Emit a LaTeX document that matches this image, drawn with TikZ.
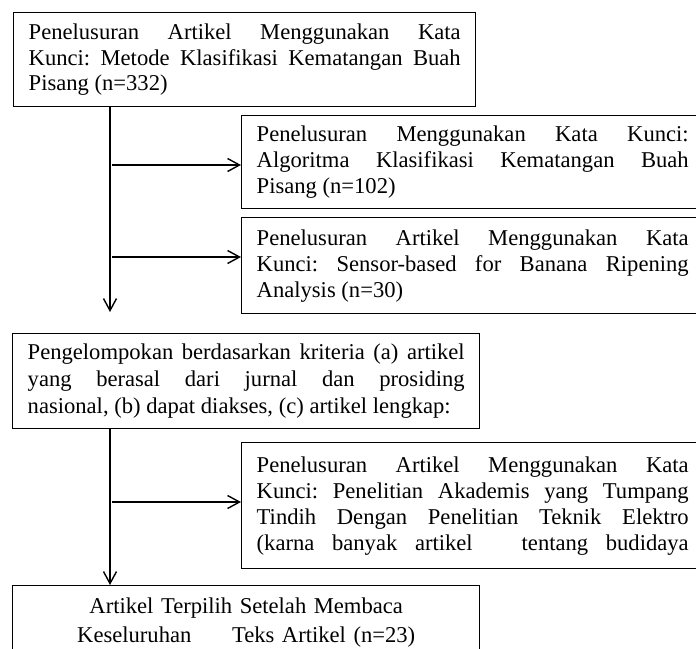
\documentclass[tikz,border=0pt]{standalone}
\usepackage{fontspec}
\setmainfont{Liberation Serif}
\usetikzlibrary{arrows.meta}

\begin{document}
\frenchspacing
\begin{tikzpicture}[
		x=1pt, y=-1pt,
		every node/.style={
			font=\fontsize{22.6}{26}\selectfont,
			inner xsep=15pt,
			inner ysep=10pt
		},
		kotak/.style={
			draw, line width=1.4pt,
			anchor=north west,
			align=justify
		},
		panah/.style={
			line width=1.4pt,
			-{Straight Barb[length=12pt,width=13pt,line width=1.4pt]}
		}
		]
		% Frame
		\useasboundingbox (0,0) rectangle (696,648);
		\clip (0,0) rectangle (696,648);
		
		% Left column
		\node[kotak, text width=432pt, minimum height=94pt, font=\fontsize{22.6}{25.5}\selectfont] (cari1) at (13,12)
		{Penelusuran Artikel Menggunakan Kata\linebreak Kunci: Metode Klasifikasi Kematangan Buah\linebreak Pisang (n=332)};
		\node[kotak, text width=437pt, minimum height=95pt, font=\fontsize{22.6}{27}\selectfont] (grup) at (12,333)
		{Pengelompokan berdasarkan kriteria (a) artikel\linebreak yang berasal dari jurnal dan prosiding\linebreak nasional, (b) dapat diakses, (c) artikel lengkap:};
		\node[kotak, text width=437pt, inner ysep=12.6pt, align=center, font=\fontsize{22.6}{29}\selectfont] (pilih) at (12,585)
		{Artikel Terpilih Setelah Membaca\\ Keseluruhan\hspace{1.8em}Teks Artikel (n=23)};
		
		% Right column
		\node[kotak, text width=432pt, minimum height=93pt] (cari2) at (241,115)
		{Penelusuran Menggunakan Kata Kunci:\linebreak Algoritma Klasifikasi Kematangan Buah\linebreak Pisang (n=102)};
		\node[kotak, text width=432pt, minimum height=96pt] (cari3) at (241,217)
		{Penelusuran Artikel Menggunakan Kata\linebreak Kunci: Sensor-based for Banana Ripening\linebreak Analysis (n=30)};
		\node[kotak, text width=432pt, minimum height=126pt] (cari4) at (241,442)
		{Penelusuran Artikel Menggunakan Kata\linebreak Kunci: Penelitian Akademis yang Tumpang\linebreak Tindih Dengan Penelitian Teknik Elektro\linebreak \makebox[\linewidth][s]{(karna banyak artikel \hspace{0.6em} tentang budidaya}};
		
		% Arrows
		\coordinate (ujung1) at (110,312);
		\coordinate (cab2) at (112,165);
		\coordinate (cab3) at (112,257);
		\coordinate (cab4) at (112,502);
		\draw[panah] (cari1.south -| ujung1) -- (ujung1);
		\draw[panah] (cab2) -- (cab2 -| cari2.west);
		\draw[panah] (cab3) -- (cab3 -| cari3.west);
		\draw[panah] (grup.south -| ujung1) -- (pilih.north -| ujung1);
		\draw[panah] (cab4) -- (cab4 -| cari4.west);
	\end{tikzpicture}
\end{document}
